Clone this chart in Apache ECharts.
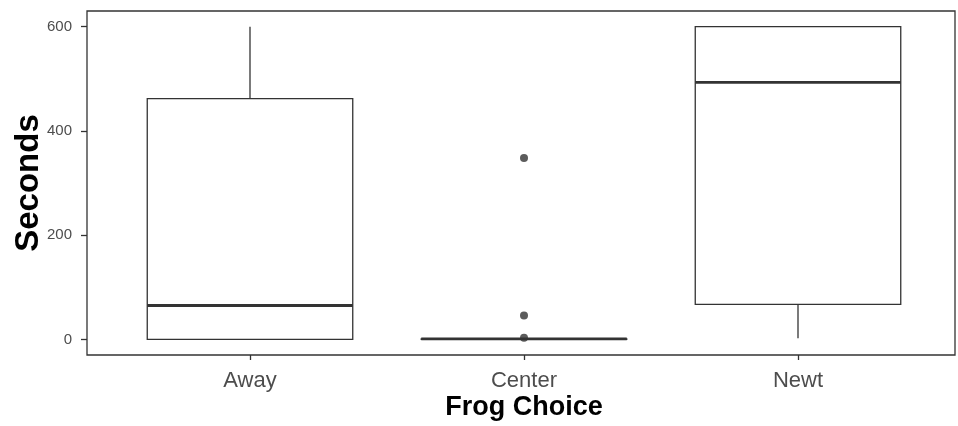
<!DOCTYPE html>
<html><head><meta charset="utf-8">
<script src="https://cdn.jsdelivr.net/npm/echarts@6/dist/echarts.min.js"></script>
<style>html,body{margin:0;padding:0;background:#fff}#c{width:958px;height:426px}</style>
</head><body><div id="c"></div>
<script>
const categories = ['Away', 'Center', 'Newt'];
// [min, Q1, median, Q3, max]
const boxStats = [
  [0, 0, 65, 462, 600],
  [0, 0, 1, 1, 1],
  [2, 67, 493, 600, 600]
];
const outliers = [['Center', 348], ['Center', 46], ['Center', 3]];
const yTicks = [0, 200, 400, 600];

const boxData = boxStats.map((s, i) => [i].concat(s));
const ink = '#333333';
const chart = echarts.init(document.getElementById('c'));
chart.setOption({
  animation: false,
  grid: [
    {left: 113, right: 23, top: 11, bottom: 71, containLabel: false, outerBoundsMode: 'none'},
    {left: 87, right: 3, top: 11, bottom: 71, containLabel: false, outerBoundsMode: 'none',
     show: true, borderColor: ink, borderWidth: 1.3, backgroundColor: 'transparent'}
  ],
  xAxis: [
    {type: 'category', data: categories, gridIndex: 0,
     axisLine: {show: false, onZero: false},
     axisTick: {show: true, alignWithLabel: true, length: 5, lineStyle: {color: ink, width: 1.3}},
     axisLabel: {color: '#4d4d4d', fontSize: 22, fontFamily: 'Liberation Sans', margin: 15},
     name: 'Frog Choice', nameLocation: 'middle', nameGap: 39, nameMoveOverlap: false,
     nameTextStyle: {fontSize: 27, fontWeight: 'bold', color: '#000', fontFamily: 'Liberation Sans'}},
    {type: 'value', gridIndex: 1, show: false}
  ],
  yAxis: [
    {type: 'value', gridIndex: 0, min: -30, max: 630, offset: 26,
     axisLine: {show: false, onZero: false},
     axisTick: {show: true, length: 6, customValues: yTicks, lineStyle: {color: ink, width: 1.3}},
     axisLabel: {color: '#4d4d4d', fontSize: 15, fontFamily: 'Liberation Sans', margin: 15, customValues: yTicks},
     splitLine: {show: false},
     name: 'Seconds', nameLocation: 'middle', nameGap: 42, nameRotate: 90, nameMoveOverlap: false,
     nameTextStyle: {fontSize: 33, fontWeight: 'bold', color: '#000', fontFamily: 'Liberation Sans'}},
    {type: 'value', gridIndex: 1, show: false}
  ],
  series: [
    {type: 'custom', xAxisIndex: 0, yAxisIndex: 0, data: boxData,
     renderItem: function (params, api) {
       const x = api.value(0);
       const w = api.size([1, 0])[0] * 0.75;
       const pMin = api.coord([x, api.value(1)]);
       const pQ1 = api.coord([x, api.value(2)]);
       const pMed = api.coord([x, api.value(3)]);
       const pQ3 = api.coord([x, api.value(4)]);
       const pMax = api.coord([x, api.value(5)]);
       const cx = pMed[0];
       return {type: 'group', children: [
         {type: 'line', shape: {x1: cx, y1: pQ3[1], x2: cx, y2: pMax[1]}, style: {stroke: ink, lineWidth: 1.3}},
         {type: 'line', shape: {x1: cx, y1: pQ1[1], x2: cx, y2: pMin[1]}, style: {stroke: ink, lineWidth: 1.3}},
         {type: 'rect', shape: {x: cx - w / 2, y: pQ3[1], width: w, height: pQ1[1] - pQ3[1]}, style: {fill: '#fff', stroke: ink, lineWidth: 1.3}},
         {type: 'line', shape: {x1: cx - w / 2, y1: pMed[1], x2: cx + w / 2, y2: pMed[1]}, style: {stroke: ink, lineWidth: 2.8}}
       ]};
     }},
    {type: 'scatter', xAxisIndex: 0, yAxisIndex: 0, data: outliers, symbolSize: 8,
     itemStyle: {color: ink}, z: 5}
  ]
});
</script></body></html>
